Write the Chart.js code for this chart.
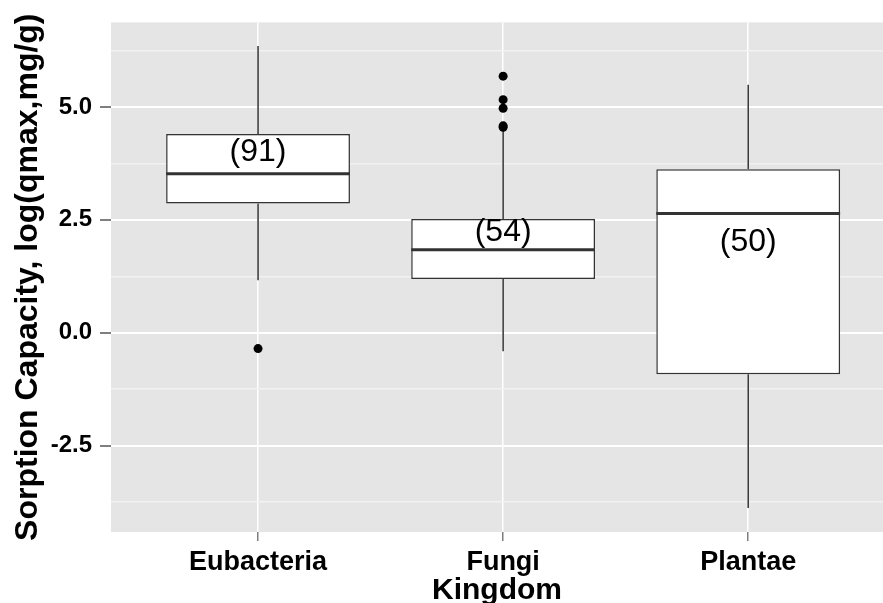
<!DOCTYPE html>
<html>
<head>
<meta charset="utf-8">
<script src="https://cdn.jsdelivr.net/npm/chart.js@4/dist/chart.umd.min.js"></script>
<style>
  body { margin: 0; background: #fff; }
  #wrap { width: 883px; height: 603px; }
</style>
</head>
<body>
<div id="wrap"><canvas id="chart" width="883" height="603"></canvas></div>
<script>
// kingdoms and their box statistics (log qmax)
const categories = ['Eubacteria', 'Fungi', 'Plantae'];
const whiskerLow = [1.16, -0.41, -3.88];
const q1 = [2.86, 1.19, -0.92];
const medians = [3.52, 1.84, 2.64];
const q3 = [4.40, 2.52, 3.62];
const whiskerHigh = [6.35, 4.50, 5.49];
const outliers = [
    [-0.35],
    [5.68, 5.16, 4.97, 4.58, 4.55],
    []
];
const counts = [91, 54, 50];
const countLabelY = [4.0, 2.23, 2.0];

const yTicks = [-3.75, -2.5, -1.25, 0, 1.25, 2.5, 3.75, 5.0, 6.25];

const FONT = '"Liberation Sans", Arial, sans-serif';
const BOX_W = 0.75;
const isMajor = v => Math.abs(v / 2.5 - Math.round(v / 2.5)) < 1e-6;

// whisker segments, broken by null points
const whiskerPts = [];
categories.forEach((c, i) => {
    const x = i + 1;
    whiskerPts.push({x, y: whiskerHigh[i]}, {x, y: q3[i]}, {x, y: null});
    whiskerPts.push({x, y: q1[i]}, {x, y: whiskerLow[i]}, {x, y: null});
});

const medianPts = [];
categories.forEach((c, i) => {
    medianPts.push({x: i + 1 - BOX_W / 2, y: medians[i]}, {x: i + 1 + BOX_W / 2, y: medians[i]}, {x: i + 1, y: null});
});

const outlierPts = [];
outliers.forEach((arr, i) => arr.forEach(v => outlierPts.push({x: i + 1, y: v})));

const panelBg = {
    id: 'panelBg',
    beforeDraw(chart) {
        const {ctx, chartArea: a} = chart;
        ctx.save();
        ctx.fillStyle = '#E5E5E5';
        ctx.fillRect(a.left, a.top, a.right - a.left, a.bottom - a.top);
        ctx.restore();
    }
};

const countLabels = {
    id: 'countLabels',
    afterDatasetsDraw(chart) {
        const {ctx, scales: {x, y}} = chart;
        ctx.save();
        ctx.font = '32px ' + FONT;
        ctx.fillStyle = '#000';
        ctx.textAlign = 'center';
        ctx.textBaseline = 'middle';
        counts.forEach((n, i) => {
            ctx.fillText('(' + n + ')', x.getPixelForValue(i + 1), y.getPixelForValue(countLabelY[i]));
        });
        ctx.restore();
    }
};

new Chart(document.getElementById('chart').getContext('2d'), {
    type: 'bar',
    data: {
        datasets: [
            {
                type: 'scatter',
                data: outlierPts,
                pointRadius: 4.5,
                pointBackgroundColor: '#000',
                pointBorderWidth: 0,
                order: 0
            },
            {
                type: 'line',
                data: medianPts,
                borderColor: '#333333',
                borderWidth: 3,
                pointRadius: 0,
                spanGaps: false,
                order: 1
            },
            {
                type: 'bar',
                data: categories.map((c, i) => ({x: i + 1, y: [q1[i], q3[i]]})),
                backgroundColor: '#FFFFFF',
                borderColor: '#333333',
                borderWidth: 1.5,
                borderSkipped: false,
                barPercentage: BOX_W,
                categoryPercentage: 1,
                order: 2
            },
            {
                type: 'line',
                data: whiskerPts,
                borderColor: '#333333',
                borderWidth: 1.5,
                pointRadius: 0,
                spanGaps: false,
                order: 3
            }
        ]
    },
    options: {
        responsive: false,
        animation: false,
        layout: { autoPadding: false, padding: { top: 22, right: 0, left: 0, bottom: 0 } },
        plugins: { legend: { display: false }, tooltip: { enabled: false } },
        scales: {
            x: {
                type: 'linear',
                min: 0.4,
                max: 3.55,
                offset: false,
                afterBuildTicks: s => { s.ticks = categories.map((c, i) => ({value: i + 1})); },
                afterFit: s => { s.height = 71; },
                ticks: {
                    autoSkip: false,
                    maxRotation: 0,
                    padding: 5,
                    color: '#000',
                    font: { family: FONT, size: 27, weight: 'bold' },
                    callback: v => categories[Math.round(v) - 1]
                },
                grid: { offset: false, color: '#FFFFFF', lineWidth: 1.5, tickLength: 9, tickColor: '#7F7F7F' },
                border: { display: false },
                title: {
                    display: true,
                    text: 'Kingdom',
                    color: '#000',
                    font: { family: FONT, size: 30, weight: 'bold', lineHeight: 0.85 },
                    padding: { top: 0, bottom: 0 }
                }
            },
            y: {
                type: 'linear',
                min: -4.41,
                max: 6.87,
                afterBuildTicks: s => { s.ticks = yTicks.map(v => ({value: v})); },
                afterFit: s => { s.width = 111; },
                ticks: {
                    autoSkip: false,
                    padding: 8,
                    color: '#000',
                    font: { family: FONT, size: 24, weight: 'bold' },
                    callback: v => isMajor(v) ? v.toFixed(1) : ''
                },
                grid: {
                    color: c => (c.tick && isMajor(c.tick.value)) ? '#FFFFFF' : '#F2F2F2',
                    lineWidth: c => (c.tick && isMajor(c.tick.value)) ? 2 : 1.5,
                    tickColor: c => (c.tick && isMajor(c.tick.value)) ? '#7F7F7F' : 'rgba(0,0,0,0)',
                    tickLength: 11
                },
                border: { display: false },
                title: {
                    display: true,
                    text: 'Sorption Capacity, log(qmax,mg/g)',
                    color: '#000',
                    font: { family: FONT, size: 32, weight: 'bold', lineHeight: 1 },
                    padding: { top: 12, bottom: 0 }
                }
            }
        }
    },
    plugins: [panelBg, countLabels]
});
</script>
</body>
</html>
